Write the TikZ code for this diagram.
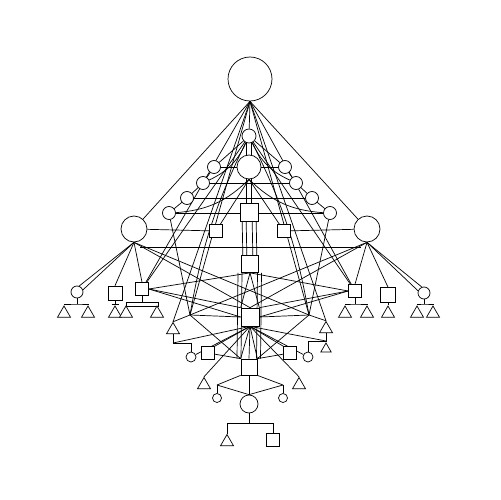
\documentclass[tikz,border=0pt]{standalone}
\usetikzlibrary{shapes.geometric,calc}
\pgfdeclarelayer{back}
\pgfdeclarelayer{bg}
\pgfsetlayers{back,bg,main}
\begin{document}
\begin{tikzpicture}[x=0.02cm,y=-0.02cm,line width=0.7pt,
  cc/.style={circle,draw,fill=white,inner sep=0pt,minimum size=#1*0.02cm},
  sqq/.style={rectangle,draw,fill=white,inner sep=0pt,minimum size=#1*0.02cm},
  tri/.style={regular polygon,regular polygon sides=3,draw,fill=white,inner sep=0pt,minimum size=#1*0.02cm}]
\useasboundingbox (0,0) rectangle (500,500);
\begin{pgfonlayer}{back}
\fill[white] (0,0) rectangle (500,500);
\end{pgfonlayer}
% ---------- nodes ----------
\node[cc=44] (T0) at (250,79) {};
\node[cc=14] (C2) at (249,136) {};
\node[cc=24] (C3) at (249,167) {};
\foreach \n/\x/\y in {L1/214/167,L2/203/183,L3/187/198,L4/169/213,R1/285/167,R2/296/183,R3/312/198,R4/330/213}
  \node[cc=13] (\n) at (\x,\y) {};
\node[sqq=18] (S1) at (249,212) {};
\node[cc=26] (BL) at (134,229) {};
\node[cc=26] (BR) at (367,229) {};
\node[sqq=13] (qa) at (216,231) {};
\node[sqq=13] (qb) at (284,231) {};
\node[sqq=17] (S2) at (250,264) {};
\node[sqq=18] (S3) at (250,317) {};
\node[sqq=16] (S4) at (249,367) {};
\node[cc=18] (CB) at (249,404) {};
\node[tri=15] (tB) at (227,442) {};
\node[sqq=13] (sB) at (273,440) {};
% left lower
\node[cc=12] (cL) at (77,292) {};
\node[tri=15] (tL1) at (64,313.5) {};
\node[tri=15] (tL2) at (88,313.5) {};
\node[sqq=14] (qL1) at (115,293) {};
\node[tri=15] (tL3a) at (115,313.5) {};
\node[sqq=13] (qL2) at (142,289) {};
\node[tri=15] (tL4) at (126,313.5) {};
\node[tri=15] (tL5) at (157,313.5) {};
% right lower
\node[sqq=13] (qR1) at (355,291) {};
\node[tri=15] (tR1) at (345,313.5) {};
\node[tri=15] (tR1b) at (367,313.5) {};
\node[sqq=15] (qR2) at (388,295) {};
\node[tri=15] (tR2a) at (388,313.5) {};
\node[cc=12] (cR) at (424,293) {};
\node[tri=15] (tR3a) at (417,313.5) {};
\node[tri=15] (tR3b) at (433,313.5) {};
% middle
\node[tri=15] (tL) at (173,330) {};
\node[tri=15] (tR) at (326,329) {};
\node[tri=12] (tRs) at (326,349) {};
\node[cc=10] (cL2) at (191,357) {};
\node[sqq=13] (sqL2) at (208,353) {};
\node[sqq=13] (sqR2) at (290,353) {};
\node[cc=10] (cR2) at (308,357) {};
\node[tri=15] (tL3) at (204,385) {};
\node[tri=15] (tR3) at (299,385) {};
\node[cc=9] (cL3) at (217,398) {};
\node[cc=9] (cR3) at (283,398) {};
% coordinates
\coordinate (JL) at (190,315);
\coordinate (JR) at (309,315);
\coordinate (PL) at (217,385);
\coordinate (PR) at (283,385);
\coordinate (hL) at (140,247);
\coordinate (hR) at (361,247);
\coordinate (KL) at (173,343);
\coordinate (KR) at (326,341);
\coordinate (BBm) at (249,423);
\coordinate (BB1) at (227,423);
\coordinate (BB2) at (273,423);
\coordinate (bcL) at (77,304);
\coordinate (bqL2) at (142,302);
\coordinate (bqL2a) at (126,302);
\coordinate (bqL2b) at (158,306);
\coordinate (bqR1) at (355,304);
\coordinate (bcR) at (424,304);
% ---------- connectors ----------
\begin{pgfonlayer}{bg}
\foreach \t in {BL,BR,C2,qL2,qR1,tL.corner 1,tR.corner 1,JL,JR}
  \draw (T0.south) -- (\t);
% chains
\draw (C2) -- (L1) -- (L2) -- (L3) -- (L4);
\draw (C2) -- (R1) -- (R2) -- (R3) -- (R4);
\draw (L1) -- (R1);
\draw (L2) -- (R2);
\draw (L3) -- (R3);
\draw (L4) -- (R4);
\draw (BL) -- (qa);
\draw (BR) -- (qb);
\draw (hL) -- (hR);
% doubles in the column
\foreach \o in {-2.5,2.5} {
  \draw ($(C2)+(\o,0)$) -- ($(C3)+(\o,0)$);
  \draw ($(C3)+(\o,0)$) -- ($(S1)+(\o,0)$);
}
\foreach \o in {-7,-3,3,7}
  \draw ($(S1)+(\o,0)$) -- ($(S2)+(\o,0)$);
\foreach \o in {-12,-8,7.5,11.5}
  \draw ($(S2.south)+(\o,0)$) -- ($(S4.north)+(\o,0)$);
% curves
\draw (C2) to[bend left=20] (L2);
\draw (C2) to[bend right=20] (R2);
\draw (C3.south) to[bend left=20] (L4);
\draw (C3.south) to[bend right=20] (R4);
\draw (C3.south) -- (qa);
\draw (C3.south) -- (qb);
\draw (C2) to[bend right=8] (JL);
\draw (C2) to[bend left=8] (JR);
\draw (L4) -- (JL);
\draw (R4) -- (JR);
\draw (qL2) -- (C2);
\draw (qR1) -- (C2);
% big side circles
\draw (BL.south) -- (cL.70);
\draw (BL.south) -- (cL.20);
\draw (BL.south) -- (qL1.north);
\draw (BL.south) -- (qL2.north);
\draw (BL.south) -- (S3.north);
\draw (BL.south) -- (JR);
\draw (BR.south) -- (cR.110);
\draw (BR.south) -- (cR.160);
\draw (BR.south) -- (qR1.north);
\draw (BR.south) -- (qR2.north);
\draw (BR.south) -- (S3.north);
\draw (BR.south) -- (JL);
% S2 fan
\draw (S2.south) -- (qL2.east);
\draw (S2.south) -- (qR1.west);
\draw (S2.south) -- (S3.north west);
\draw (S2.south) -- (S3.north east);
\draw (qL2.east) -- (S3.west);
\draw (qL2.east) -- (S3.north west);
\draw (qR1.west) -- (S3.east);
\draw (qR1.west) -- (S3.north east);
% junctions
\draw (JL) -- (tL.corner 1);
\draw (JL) -- (S3.west);
\draw (JL) -- (S4.north west);
\draw (JR) -- (tR.corner 1);
\draw (JR) -- (S3.east);
\draw (JR) -- (S4.north east);
% S3 fan
\foreach \t in {sqL2.north east,cL2,tL3.corner 1,KL,S4.north west,S4.north,S4.north east,sqR2.north west,cR2,tR3.corner 1,KR}
  \draw (S3.south) -- (\t);
\draw (sqL2) -- (S4.north west);
\draw (sqR2) -- (S4.north east);
% small triangles
\draw (tL.south) -- (KL) -| (cL2.north);
\draw (tR.south) -- (tRs.corner 1);
\draw (cR2.north) |- (KR);
% lens
\draw (PL) -- (S4.south west);
\draw (PL) -- (CB.north);
\draw (PR) -- (S4.south east);
\draw (PR) -- (CB.north);
\draw (PL) -- (cL3);
\draw (PR) -- (cR3);
\draw (S4) -- (CB);
% bottom
\draw (CB) -- (BBm);
\draw (tB.corner 1) -- (BB1) -- (BB2) -- (sB.north);
% sub-trees
\draw (cL) -- (bcL);
\draw (tL1.corner 1) |- (bcL) -| (tL2.corner 1);
\draw (qL1) -- (tL3a.corner 1);
\draw ($(qL1.south)+(-3.5,3.5)$) -- ($(qL1.south)+(3.5,3.5)$);
\draw (qL2) -- (bqL2);
\draw (bqL2a) rectangle (bqL2b);
\draw (qR1) -- (bqR1);
\draw (tR1.corner 1) |- (bqR1) -| (tR1b.corner 1);
\draw (qR2) -- (tR2a.corner 1);
\draw (cR) -- (bcR);
\draw (tR3a.corner 1) |- (bcR) -| (tR3b.corner 1);
\end{pgfonlayer}
\end{tikzpicture}
\end{document}
